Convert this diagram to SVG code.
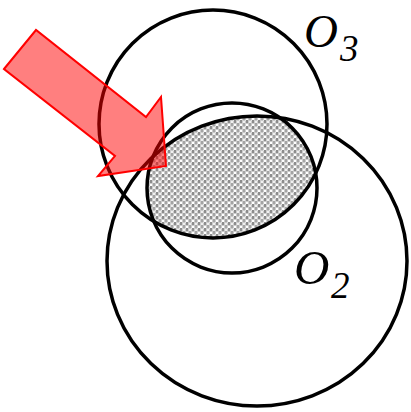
<svg xmlns="http://www.w3.org/2000/svg" width="411" height="412" viewBox="0 0 411 412">
<style>
.ring{fill:none;stroke:#000;stroke-width:3.5}
.lbl{font-family:"Liberation Serif","Times New Roman",serif;font-style:italic;fill:#000}
</style>
<defs>
<pattern id="hatch" width="6" height="6" patternUnits="userSpaceOnUse">
<rect width="6" height="6" fill="#cbcbcb"/>
<rect x="0" y="0" width="2" height="3" fill="#8c8c8c"/>
<rect x="3" y="1" width="2" height="2" fill="#f0f0f0"/>
<rect x="3" y="3" width="2" height="3" fill="#a4a4a4"/>
<rect x="0" y="4" width="2" height="2" fill="#ffffff"/>
<rect x="5" y="0" width="1" height="1" fill="#e6e6e6"/>
</pattern>
<clipPath id="clipBig"><ellipse cx="257" cy="261" rx="150" ry="145"/></clipPath>
<clipPath id="clipO3"><ellipse cx="213" cy="124" rx="114" ry="114"/></clipPath>
</defs>
<rect width="411" height="412" fill="#fff"/>
<g id="shaded" clip-path="url(#clipBig)">
<circle cx="232" cy="188" r="85" fill="url(#hatch)" clip-path="url(#clipO3)"/>
</g>
<g id="circle-O1"><ellipse class="ring" cx="257" cy="261" rx="150" ry="145"/></g>
<g id="circle-O3"><ellipse class="ring" cx="213" cy="124" rx="114" ry="114"/></g>
<g id="circle-O2"><circle class="ring" cx="232" cy="188" r="85"/></g>
<g id="label-O3"><text class="lbl" x="304" y="47" font-size="47">O</text><text class="lbl" x="340" y="61" font-size="37">3</text></g>
<g id="label-O2"><text class="lbl" x="294" y="284" font-size="49">O</text><text class="lbl" x="331" y="298" font-size="37">2</text></g>
<g id="connectors">
<polygon id="arrow" points="4,69 36,30 146,117 161,97 166,166 98,176 115,156" fill="#ff0000" fill-opacity="0.5" stroke="#ff0000" stroke-width="2" stroke-linejoin="miter"/>
</g>
</svg>
